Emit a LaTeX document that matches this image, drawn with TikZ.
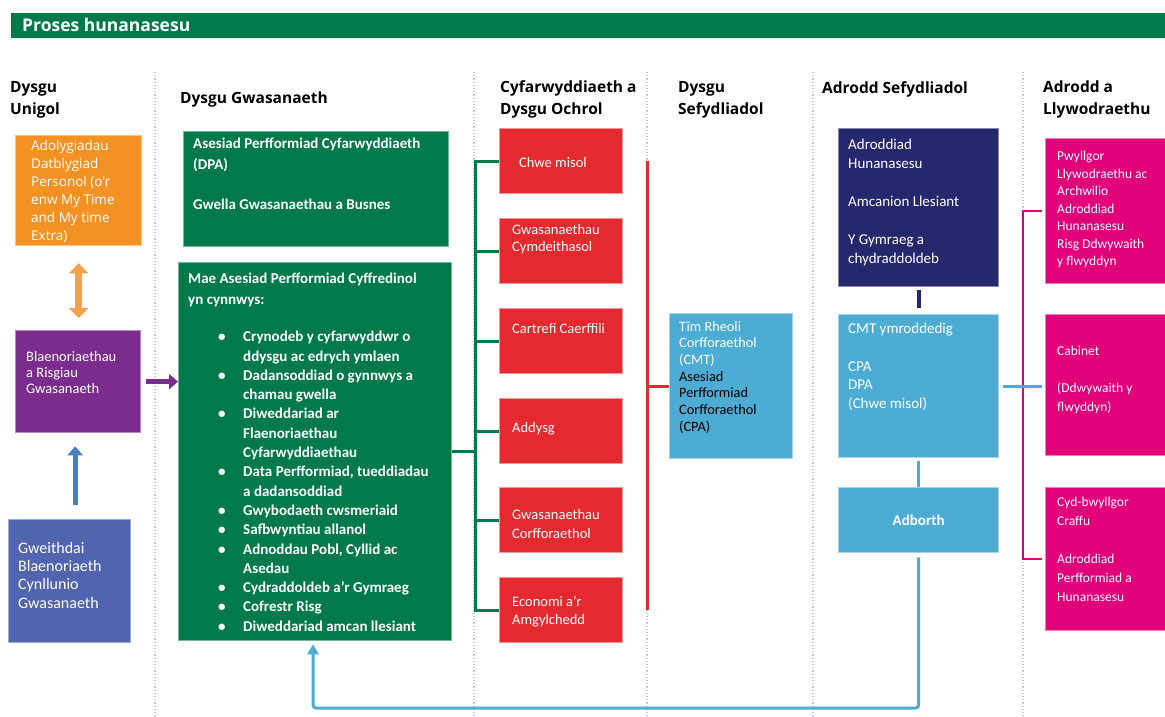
\documentclass[tikz,border=0pt]{standalone}
\usepackage{fontspec}
\setmainfont{Carlito}
\newfontfamily\hdfont{Open Sans}
\usetikzlibrary{arrows.meta,calc}
\definecolor{cGreen}{RGB}{0,122,75}
\definecolor{cOrange}{RGB}{243,146,34}
\definecolor{cOrangeA}{RGB}{245,160,75}
\definecolor{cPurple}{RGB}{123,45,142}
\definecolor{cBlue}{RGB}{80,100,175}
\definecolor{cBlueA}{RGB}{70,130,195}
\definecolor{cRed}{RGB}{228,42,46}
\definecolor{cLight}{RGB}{76,172,212}
\definecolor{cNavy}{RGB}{38,40,110}
\definecolor{cMag}{RGB}{226,0,122}
\newcommand\bul{\llap{\makebox[25pt][l]{\textbullet}}}
\begin{document}
\begin{tikzpicture}[x=1pt,y=-1pt,
  box/.style={rectangle, inner sep=0, anchor=north west, line width=1.3pt},
  gbox/.style={box, fill=cGreen, draw=cGreen!55!white},
  rbox/.style={box, fill=cRed, draw=cRed!50!white, minimum width=123, minimum height=65},
  lbox/.style={box, fill=cLight, draw=cLight!50!white},
  mbox/.style={box, fill=cMag, draw=cMag!50!white, minimum width=130},
  txt/.style={anchor=north west, inner sep=0, align=left, text=white, font=\fontsize{14}{17}\selectfont},
  hd/.style={anchor=north west, inner sep=0, align=left, font=\hdfont\bfseries\fontsize{15.5}{22}\selectfont},
  sepline/.style={gray!45, dotted, line width=1.2pt},
  greenline/.style={cGreen, line width=3pt},
  redline/.style={cRed, line width=3pt},
  magline/.style={cMag, line width=2.5pt},
  lbline/.style={cLight, line width=3pt},
  bigarrow/.style={line width=5pt, -{Triangle[length=9pt,width=15pt]}}
]
\useasboundingbox (0,0) rectangle (1165,717);

% title bar
\node[box, fill=cGreen, minimum width=1160, minimum height=25] (title) at (10,12) {};
\node[anchor=west, inner sep=0, text=white, font=\hdfont\bfseries\fontsize{17.5}{20}\selectfont] (titleT) at (22,24.5) {Proses hunanasesu};

% column separators
\foreach \x in {155,474,647,813,1023} \draw[sepline] (\x,72) -- (\x,717);

% headers
\node[hd] (h1) at (10,81) {Dysgu\\Unigol};
\node[hd] (h2) at (180,92) {Dysgu Gwasanaeth};
\node[hd] (h3) at (500,80) {Cyfarwyddiaeth a\\Dysgu Ochrol};
\node[hd] (h4) at (678,81) {Dysgu\\Sefydliadol};
\node[hd] (h5) at (822,81) {Adrodd Sefydliadol};
\node[hd] (h6) at (1043,81) {Adrodd a\\Llywodraethu};

% column 1
\node[box, fill=cOrange, draw=cOrange!55!white, minimum width=126, minimum height=110] (adol) at (15,135) {};
\node[txt, font=\hdfont\fontsize{13.5}{18}\selectfont] (adolT) at (31,140) {Adolygiadau\\Datblygiad\\Personol (o'r\\enw My Time\\and My time\\Extra)};
\node[box, fill=cPurple, draw=cPurple!55!white, minimum width=125, minimum height=102] (purp) at (15,330) {};
\node[txt, font=\fontsize{14.5}{16}\selectfont] (purpT) at (26,351) {Blaenoriaethau\\a Risgiau\\Gwasanaeth};
\node[box, fill=cBlue, draw=cBlue!55!white, minimum width=122, minimum height=123] (bluebox) at (8,519) {};
\node[txt, font=\fontsize{16}{18.3}\selectfont] (blueT) at (18,542) {Gweithdai\\Blaenoriaeth\\Cynllunio\\Gwasanaeth};

\draw[cOrangeA, line width=6.5pt, {Triangle[length=10pt,width=19pt]}-{Triangle[length=10pt,width=19pt]}, shorten <=17pt, shorten >=12pt] (adol.south) -- (adol.south |- purp.north);
\draw[bigarrow, cBlueA, shorten <=14pt, shorten >=13pt] ([xshift=-3pt]purp.south |- bluebox.north) -- ([xshift=-3pt]purp.south);

% column 2
\node[gbox, minimum width=265, minimum height=115] (green1) at (183,131) {};
\node[txt, font=\bfseries\fontsize{15}{20.3}\selectfont] (green1T) at (193,138) {Asesiad Perfformiad Cyfarwyddiaeth\\(DPA)\\[20.3pt]Gwella Gwasanaethau a Busnes};
\node[gbox, minimum width=273, minimum height=378] (green2) at (178,262) {};
\node[txt, font=\bfseries\fontsize{15}{21}\selectfont] (green2H) at (188,273) {Mae Asesiad Perfformiad Cyffredinol\\yn cynnwys:};
\node[txt, font=\bfseries\fontsize{15}{19.3}\selectfont] (green2L) at (243,331) {\bul Crynodeb y cyfarwyddwr o\\ddysgu ac edrych ymlaen\\\bul Dadansoddiad o gynnwys a\\chamau gwella\\\bul Diweddariad ar\\Flaenoriaethau\\Cyfarwyddiaethau\\\bul Data Perfformiad, tueddiadau\\a dadansoddiad\\\bul Gwybodaeth cwsmeriaid\\\bul Safbwyntiau allanol\\\bul Adnoddau Pobl, Cyllid ac\\Asedau\\\bul Cydraddoldeb a'r Gymraeg\\\bul Cofrestr Risg\\\bul Diweddariad amcan llesiant};

\draw[bigarrow, cPurple, shorten <=5pt] (purp.east) -- (purp.east -| green2.west);

% column 3
\node[rbox] (red1) at (499,128) {};
\node[rbox] (red2) at (499,218) {};
\node[rbox] (red3) at (499,308) {};
\node[rbox] (red4) at (499,398) {};
\node[rbox] (red5) at (499,487) {};
\node[rbox] (red6) at (499,577) {};
\node[txt, font=\fontsize{14.5}{17.5}\selectfont] (red1T) at (519,157) {Chwe misol};
\node[txt, font=\fontsize{14.5}{17.5}\selectfont] (red2T) at (512,224) {Gwasanaethau\\Cymdeithasol};
\node[txt, font=\fontsize{14.5}{17.5}\selectfont] (red3T) at (512,323) {Cartrefi Caerffili};
\node[txt, font=\fontsize{14.5}{17.5}\selectfont] (red4T) at (512,422) {Addysg};
\node[txt, font=\fontsize{14.5}{19}\selectfont] (red5T) at (512,509) {Gwasanaethau\\Corfforaethol};
\node[txt, font=\fontsize{14.5}{18}\selectfont] (red6T) at (512,596) {Economi a'r\\Amgylchedd};

\coordinate (gbr) at (475,0);
\draw[greenline] (red1.west) -- (red1.west -| gbr) -- (red6.west -| gbr) -- (red6.west);
\foreach \r in {red2,red3,red4,red5} \draw[greenline] (\r.west) -- (\r.west -| gbr);
\draw[greenline] (green2.east) -- (green2.east -| gbr);

% column 4
\node[lbox, minimum width=123, minimum height=145] (cmt) at (669,313) {};
\node[txt, font=\fontsize{14.3}{16.7}\selectfont] (cmtT) at (679,321) {Tîm Rheoli\\Corfforaethol\\(CMT)\\{\color{black}Asesiad}\\{\color{black}Perfformiad}\\{\color{black}Corfforaethol}\\{\color{black}(CPA)}};
\coordinate (rbr) at (647,0);
\draw[redline] (red1.east -| rbr) -- (red6.east -| rbr);
\draw[redline] (cmt.west -| rbr) -- (cmt.west);

% column 5
\node[box, fill=cNavy, draw=cNavy!55!white, minimum width=160, minimum height=158] (navy) at (838,128) {};
\node[txt, font=\fontsize{15}{19}\selectfont] (navyT) at (848,139) {Adroddiad\\Hunanasesu\\[19pt]Amcanion Llesiant\\[19pt]Y Gymraeg a\\chydraddoldeb};
\node[lbox, minimum width=160, minimum height=143] (cmt2) at (838,314) {};
\node[txt, font=\fontsize{15}{18.7}\selectfont] (cmt2T) at (848,323) {CMT ymroddedig\\[18.7pt]CPA\\DPA\\(Chwe misol)};
\node[lbox, minimum width=160, minimum height=65] (adb) at (838,487) {};
\node[anchor=center, inner sep=0, text=white, font=\bfseries\fontsize{15}{18}\selectfont] (adbT) at (adb.center) {Adborth};

\draw[cNavy, line width=4pt, shorten <=3pt, shorten >=6pt] (navy.south) -- (cmt2.north);
\draw[lbline, shorten <=3pt] (cmt2.south) -- (adb.north);
\coordinate (fb) at (313,708);
\draw[lbline, rounded corners=3pt, -{Triangle[length=10pt,width=11pt]}, shorten <=4pt, shorten >=3pt] (adb.south) |- (fb) -- (fb |- green2.south);

% column 6
\node[mbox, minimum height=145] (mag1) at (1045,138) {};
\node[txt, font=\fontsize{13.5}{17.5}\selectfont] (mag1T) at (1057,151) {Pwyllgor\\Llywodraethu ac\\Archwilio\\Adroddiad\\Hunanasesu\\Risg Ddwywaith\\y flwyddyn};
\node[mbox, minimum height=141] (cab) at (1045,314) {};
\node[txt, font=\fontsize{13.5}{18.5}\selectfont] (cabT) at (1057,346) {Cabinet\\[18.5pt](Ddwywaith y\\flwyddyn)};
\node[mbox, minimum height=143] (mag3) at (1045,487) {};
\node[txt, font=\fontsize{13.5}{19}\selectfont] (mag3T) at (1057,497) {Cyd-bwyllgor\\Craffu\\[19pt]Adroddiad\\Perfformiad a\\Hunanasesu};

\coordinate (mbr) at (1023,0);
\draw[magline, shorten <=3pt, shorten >=3pt] (mag1.west) -- (mag1.west -| mbr) -- (mag3.west -| mbr) -- (mag3.west);
\draw[lbline, shorten <=4pt, shorten >=3pt] (cmt2.east) -- (cmt2.east -| cab.west);
\end{tikzpicture}
\end{document}
